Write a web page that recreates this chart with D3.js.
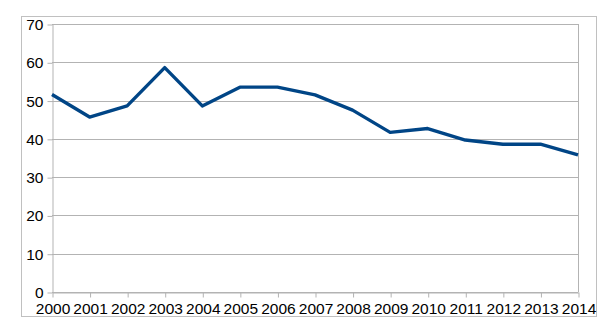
<!DOCTYPE html>
<html>
<head>
<meta charset="utf-8">
<script src="https://d3js.org/d3.v7.min.js"></script>
<style>
  body { margin: 0; background: #fff; }
  text { font-family: "Liberation Sans", Arial, sans-serif; fill: #000; }
</style>
</head>
<body>
<script>
var years = [2000, 2001, 2002, 2003, 2004, 2005, 2006, 2007, 2008, 2009, 2010, 2011, 2012, 2013, 2014];
var values = [51.6, 45.7, 48.6, 58.6, 48.6, 53.5, 53.5, 51.5, 47.5, 41.7, 42.7, 39.7, 38.6, 38.6, 35.8];
var yTicks = [0, 10, 20, 30, 40, 50, 60, 70];

var w = 613, h = 332;
var plotL = 52, plotR = 578, plotT = 24, plotB = 292;

var svg = d3.select("body").append("svg")
  .attr("width", w).attr("height", h);

// outer frame
svg.append("rect")
  .attr("x", 21.5).attr("y", 16.5)
  .attr("width", 575).attr("height", 300)
  .attr("fill", "none").attr("stroke", "#c0c0c0");

var x = d3.scaleLinear().domain([2000, 2014]).range([plotL, plotR]);
var y = d3.scaleLinear().domain([0, 70]).range([plotB, plotT]);

// gridlines
svg.append("g").selectAll("line").data(yTicks).enter().append("line")
  .attr("x1", plotL).attr("x2", plotR)
  .attr("y1", function(d){ return Math.round(y(d)) + 0.5; })
  .attr("y2", function(d){ return Math.round(y(d)) + 0.5; })
  .attr("stroke", "#b3b3b3").attr("stroke-width", 1);

// right border of plot
svg.append("line")
  .attr("x1", plotR + 0.5).attr("x2", plotR + 0.5)
  .attr("y1", plotT).attr("y2", plotB)
  .attr("stroke", "#b3b3b3");

// y axis
var yAxis = d3.axisLeft(y).tickValues(yTicks).tickSize(5).tickPadding(4).tickSizeOuter(0);
var gy = svg.append("g").attr("transform", "translate(" + (plotL + 0.5) + ",0.5)").call(yAxis);
gy.selectAll("path, line").attr("stroke", "#b3b3b3");
gy.selectAll("text").style("font-size", "15.5px").attr("font-family", null);

// x axis
var xAxis = d3.axisBottom(x).tickValues(years).tickFormat(d3.format("d")).tickSize(5).tickPadding(5).tickSizeOuter(0);
var gx = svg.append("g").attr("transform", "translate(0.5," + (plotB + 0.5) + ")").call(xAxis);
gx.selectAll("path, line").attr("stroke", "#b3b3b3");
gx.selectAll("text").style("font-size", "15.5px").attr("font-family", null);

// line
var line = d3.line()
  .x(function(d, i){ return x(years[i]); })
  .y(function(d){ return y(d); });

svg.append("path")
  .datum(values)
  .attr("d", line)
  .attr("fill", "none")
  .attr("stroke", "#004586")
  .attr("stroke-width", 3.4)
  .attr("stroke-linejoin", "round");
</script>
</body>
</html>
